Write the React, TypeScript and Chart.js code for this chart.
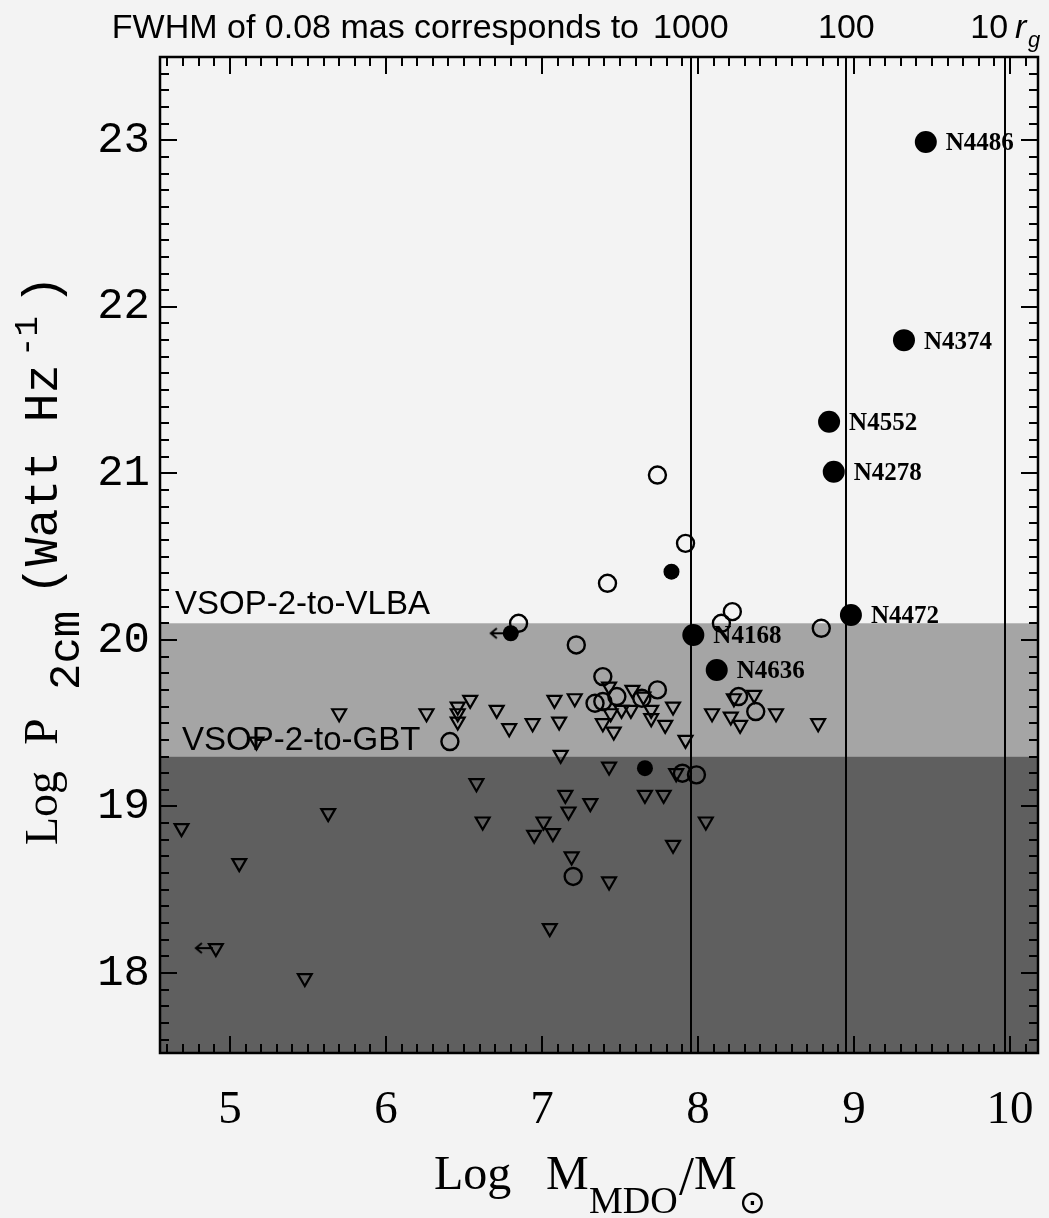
import React, { useEffect, useRef } from 'react';
import { Chart, registerables } from 'chart.js';

Chart.register(...registerables);

// ---- axes ----
const X_MIN = 4.552;
const X_MAX = 10.179;
const Y_MIN = 17.52;
const Y_MAX = 23.5;
const X_TICKS = [5, 6, 7, 8, 9, 10];
const Y_TICKS = [18, 19, 20, 21, 22, 23];

// ---- sensitivity bands ----
const VLBA_LIMIT = 20.1;
const GBT_LIMIT = 19.3;
const VLBA_LABEL = 'VSOP-2-to-VLBA';
const GBT_LABEL = 'VSOP-2-to-GBT';

// ---- r_g reference lines (FWHM of 0.08 mas) ----
const RG_LINE_MASS = [7.954, 8.951, 9.968];
const RG_LINE_LABELS = ['1000', '100', '10'];
const TOP_PREFIX = 'FWHM of 0.08 mas corresponds to';

// ---- named detections (large filled circles) ----
const NAMED_LABELS = ['N4486', 'N4374', 'N4552', 'N4278', 'N4472', 'N4168', 'N4636'];
const NAMED_MASS = [9.46, 9.32, 8.84, 8.87, 8.98, 7.97, 8.12];
const NAMED_POWER = [22.99, 21.80, 21.31, 21.01, 20.15, 20.03, 19.82];

// ---- other detections (small filled circles) ----
const DETECTED_MASS = [7.83, 6.80, 7.66];
const DETECTED_POWER = [20.41, 20.04, 19.23];

// ---- open circles ----
const OPEN_MASS = [7.74, 7.92, 7.42, 6.85, 7.22, 8.15, 8.22, 8.79, 7.39, 7.48, 7.34, 7.39, 7.74, 7.64, 6.41, 7.90, 7.99, 7.20, 8.26, 8.37];
const OPEN_POWER = [20.99, 20.58, 20.34, 20.10, 19.97, 20.10, 20.17, 20.07, 19.78, 19.66, 19.62, 19.63, 19.70, 19.65, 19.39, 19.20, 19.19, 18.58, 19.66, 19.57];

// ---- upper limits (inverted triangles) ----
const UPPER_MASS = [4.69, 5.06, 4.91, 5.48, 5.63, 5.17, 5.70, 6.26, 6.54, 6.46, 6.46, 6.46, 6.71, 6.79, 6.94, 7.08, 7.11, 7.21, 7.43, 7.44, 7.39, 7.46, 7.51, 7.57, 7.58, 7.65, 7.70, 7.70, 7.84, 7.79, 7.92, 8.09, 8.21, 8.27, 8.23, 8.36, 8.50, 8.77, 7.12, 7.43, 6.58, 7.15, 7.31, 7.66, 7.78, 7.17, 6.62, 7.01, 6.95, 7.07, 8.05, 7.84, 7.19, 7.43, 7.05, 7.86];
const UPPER_POWER = [18.87, 18.66, 18.15, 17.97, 18.96, 19.39, 19.56, 19.56, 19.64, 19.60, 19.56, 19.51, 19.58, 19.47, 19.50, 19.64, 19.51, 19.65, 19.72, 19.56, 19.50, 19.45, 19.58, 19.58, 19.70, 19.66, 19.58, 19.53, 19.60, 19.49, 19.40, 19.56, 19.54, 19.49, 19.65, 19.67, 19.56, 19.50, 19.31, 19.24, 19.14, 19.07, 19.02, 19.07, 19.07, 18.97, 18.91, 18.91, 18.83, 18.84, 18.91, 18.77, 18.70, 18.55, 18.27, 19.20];

// ---- mass upper limits (left arrows) ----
const MASS_LIMIT_MASS = [6.80, 4.91];
const MASS_LIMIT_POWER = [20.04, 18.15];

const PAGE_BG = '#f3f3f3';
const LIGHT_BAND = '#a5a5a5';
const DARK_BAND = '#5f5f5f';
const SERIF = '"Liberation Serif", "DejaVu Serif", serif';
const MONO = '"Liberation Mono", "DejaVu Sans Mono", monospace';
const SANS = '"Liberation Sans", Arial, sans-serif';

const pts = (xs: number[], ys: number[]) => xs.map((x, i) => ({ x, y: ys[i] }));

type Part = { text: string; font: string; at: number; shift: number };

function drawRun(ctx: CanvasRenderingContext2D, ox: number, oy: number, angle: number, parts: Part[]) {
  ctx.save();
  ctx.translate(ox, oy);
  ctx.rotate(angle);
  ctx.fillStyle = '#000';
  ctx.textAlign = 'left';
  ctx.textBaseline = 'alphabetic';
  for (const p of parts) {
    ctx.font = p.font;
    ctx.fillText(p.text, p.at, p.shift);
  }
  ctx.restore();
}

const decorPlugin = {
  id: 'decor',
  beforeDraw(chart: any) {
    const ctx = chart.ctx;
    ctx.save();
    ctx.fillStyle = PAGE_BG;
    ctx.fillRect(0, 0, chart.width, chart.height);
    ctx.restore();
  },
  beforeDatasetsDraw(chart: any) {
    const { ctx, chartArea: a } = chart;
    const xs = chart.scales.x;
    const ys = chart.scales.y;
    ctx.save();
    const yV = ys.getPixelForValue(VLBA_LIMIT);
    const yG = ys.getPixelForValue(GBT_LIMIT);
    ctx.fillStyle = LIGHT_BAND;
    ctx.fillRect(a.left, yV, a.right - a.left, yG - yV);
    ctx.fillStyle = DARK_BAND;
    ctx.fillRect(a.left, yG, a.right - a.left, a.bottom - yG);

    // r_g lines
    ctx.strokeStyle = '#000';
    ctx.lineWidth = 2;
    for (const m of RG_LINE_MASS) {
      const px = Math.round(xs.getPixelForValue(m));
      ctx.beginPath();
      ctx.moveTo(px, a.top);
      ctx.lineTo(px, a.bottom);
      ctx.stroke();
    }

    // inward ticks
    ctx.lineWidth = 2;
    const MAJ = 17;
    const MIN = 9;
    for (let i = Math.ceil(X_MIN * 10); i <= Math.floor(X_MAX * 10); i++) {
      const px = Math.round(xs.getPixelForValue(i / 10));
      const len = i % 10 === 0 ? MAJ : MIN;
      ctx.beginPath();
      ctx.moveTo(px, a.bottom);
      ctx.lineTo(px, a.bottom - len);
      ctx.moveTo(px, a.top);
      ctx.lineTo(px, a.top + len);
      ctx.stroke();
    }
    for (let i = Math.ceil(Y_MIN * 10); i <= Math.floor(Y_MAX * 10); i++) {
      const py = Math.round(ys.getPixelForValue(i / 10));
      const len = i % 10 === 0 ? MAJ : MIN;
      ctx.beginPath();
      ctx.moveTo(a.left, py);
      ctx.lineTo(a.left + len, py);
      ctx.moveTo(a.right, py);
      ctx.lineTo(a.right - len, py);
      ctx.stroke();
    }

    // frame
    ctx.lineWidth = 2.5;
    ctx.strokeRect(a.left, a.top, a.right - a.left, a.bottom - a.top);
    ctx.restore();
  },
  afterDatasetsDraw(chart: any) {
    const { ctx, chartArea: a } = chart;
    const xs = chart.scales.x;
    const ys = chart.scales.y;
    ctx.save();
    ctx.fillStyle = '#000';

    // galaxy names
    const meta = chart.getDatasetMeta(0);
    ctx.font = `bold 25px ${SERIF}`;
    ctx.textAlign = 'left';
    ctx.textBaseline = 'middle';
    meta.data.forEach((el: any, i: number) => {
      ctx.fillText(NAMED_LABELS[i], el.x + 20, el.y + 2);
    });

    // band labels
    ctx.font = `33px ${SANS}`;
    ctx.textBaseline = 'alphabetic';
    ctx.fillText(VLBA_LABEL, a.left + 15, ys.getPixelForValue(VLBA_LIMIT) - 9);
    ctx.fillText(GBT_LABEL, a.left + 22, ys.getPixelForValue(GBT_LIMIT) - 7);

    // top labels
    const base = 38;
    ctx.font = `34px ${SANS}`;
    const p0 = xs.getPixelForValue(RG_LINE_MASS[0]);
    ctx.textAlign = 'center';
    ctx.fillText(RG_LINE_LABELS[0], p0, base);
    const w0 = ctx.measureText(RG_LINE_LABELS[0]).width;
    ctx.textAlign = 'right';
    ctx.fillText(TOP_PREFIX, p0 - w0 / 2 - 14, base);
    ctx.textAlign = 'center';
    ctx.fillText(RG_LINE_LABELS[1], xs.getPixelForValue(RG_LINE_MASS[1]), base);
    const p2 = xs.getPixelForValue(RG_LINE_MASS[2]);
    ctx.textAlign = 'right';
    ctx.fillText(RG_LINE_LABELS[2], p2 + 3, base);
    ctx.textAlign = 'left';
    ctx.font = `italic 34px ${SANS}`;
    ctx.fillText('r', p2 + 10, base);
    ctx.font = `italic 22px ${SANS}`;
    ctx.fillText('g', p2 + 23, base + 9);

    // x title
    drawRun(ctx, 434, 1189, 0, [
      { text: 'Log', font: `48px ${SERIF}`, at: 0, shift: 0 },
      { text: 'M', font: `48px ${SERIF}`, at: 112, shift: 0 },
      { text: 'MDO', font: `38px ${SERIF}`, at: 155, shift: 24 },
      { text: '/', font: `54px ${SERIF}`, at: 245, shift: 5 },
      { text: 'M', font: `48px ${SERIF}`, at: 260, shift: 0 },
      { text: '\u2299', font: `32px "DejaVu Sans"`, at: 305, shift: 24 },
    ]);

    // y title
    drawRun(ctx, 57, 845, -Math.PI / 2, [
      { text: 'Log', font: `46px ${SERIF}`, at: 0, shift: 0 },
      { text: 'P', font: `48px ${SERIF}`, at: 100, shift: 0 },
      { text: '2cm', font: `44px ${MONO}`, at: 155, shift: 22 },
      { text: '(Watt Hz', font: `48px ${MONO}`, at: 250, shift: 0 },
      { text: '-1', font: `34px ${MONO}`, at: 488, shift: -20 },
      { text: ')', font: `50px ${MONO}`, at: 540, shift: 0 },
    ]);
    ctx.restore();
  },
};

export default function App() {
  const ref = useRef<HTMLCanvasElement | null>(null);
  useEffect(() => {
    const canvas = ref.current;
    if (!canvas) return;

    const arrow = document.createElement('canvas');
    arrow.width = 44;
    arrow.height = 16;
    const g = arrow.getContext('2d')!;
    g.strokeStyle = '#000';
    g.lineWidth = 2;
    g.beginPath();
    g.moveTo(19, 8);
    g.lineTo(2, 8);
    g.moveTo(8, 3);
    g.lineTo(2, 8);
    g.lineTo(8, 13);
    g.stroke();

    const chart = new Chart(canvas, {
      type: 'scatter',
      data: {
        datasets: [
          {
            label: 'named',
            data: pts(NAMED_MASS, NAMED_POWER),
            pointStyle: 'circle',
            pointRadius: 11,
            backgroundColor: '#000',
            borderColor: '#000',
            borderWidth: 0,
          },
          {
            label: 'detected',
            data: pts(DETECTED_MASS, DETECTED_POWER),
            pointStyle: 'circle',
            pointRadius: 8,
            backgroundColor: '#000',
            borderColor: '#000',
            borderWidth: 0,
          },
          {
            label: 'mass limits',
            data: pts(MASS_LIMIT_MASS, MASS_LIMIT_POWER),
            pointStyle: arrow,
            pointRadius: 10,
          },
          {
            label: 'open',
            data: pts(OPEN_MASS, OPEN_POWER),
            pointStyle: 'circle',
            pointRadius: 8.5,
            backgroundColor: 'rgba(0,0,0,0)',
            borderColor: '#000',
            borderWidth: 2.4,
          },
          {
            label: 'upper',
            data: pts(UPPER_MASS, UPPER_POWER),
            pointStyle: 'triangle',
            pointRotation: 180,
            pointRadius: 8,
            backgroundColor: 'rgba(0,0,0,0)',
            borderColor: '#000',
            borderWidth: 2.2,
          },
        ] as any,
      },
      options: {
        animation: false,
        responsive: false,
        maintainAspectRatio: false,
        devicePixelRatio: 1,
        events: [],
        layout: { padding: { left: 0, right: 9, top: 57, bottom: 0 } },
        plugins: {
          legend: { display: false },
          tooltip: { enabled: false },
          title: { display: false },
        },
        scales: {
          x: {
            type: 'linear',
            position: 'bottom',
            min: X_MIN,
            max: X_MAX,
            afterFit: (s: any) => {
              s.height = 165;
              s.paddingLeft = 0;
              s.paddingRight = 0;
            },
            afterBuildTicks: (s: any) => {
              s.ticks = X_TICKS.map((v) => ({ value: v }));
            },
            grid: { display: false, drawTicks: false },
            border: { display: false },
            ticks: {
              color: '#000',
              font: { family: SERIF, size: 47 },
              padding: 29,
              maxRotation: 0,
              autoSkip: false,
              callback: (v: any) => String(v),
            },
          },
          y: {
            type: 'linear',
            position: 'left',
            min: Y_MIN,
            max: Y_MAX,
            afterFit: (s: any) => {
              s.width = 160;
              s.paddingTop = 0;
              s.paddingBottom = 0;
            },
            afterBuildTicks: (s: any) => {
              s.ticks = Y_TICKS.map((v) => ({ value: v }));
            },
            grid: { display: false, drawTicks: false },
            border: { display: false },
            ticks: {
              color: '#000',
              font: { family: MONO, size: 44 },
              padding: 10,
              autoSkip: false,
              callback: (v: any) => String(v),
            },
          },
        },
      } as any,
      plugins: [decorPlugin],
    });
    return () => chart.destroy();
  }, []);

  return (
    <div style={{ position: 'fixed', left: 0, top: 0, width: 1049, height: 1218, background: PAGE_BG }}>
      <canvas ref={ref} width={1049} height={1218} style={{ display: 'block', width: 1049, height: 1218 }} />
    </div>
  );
}
